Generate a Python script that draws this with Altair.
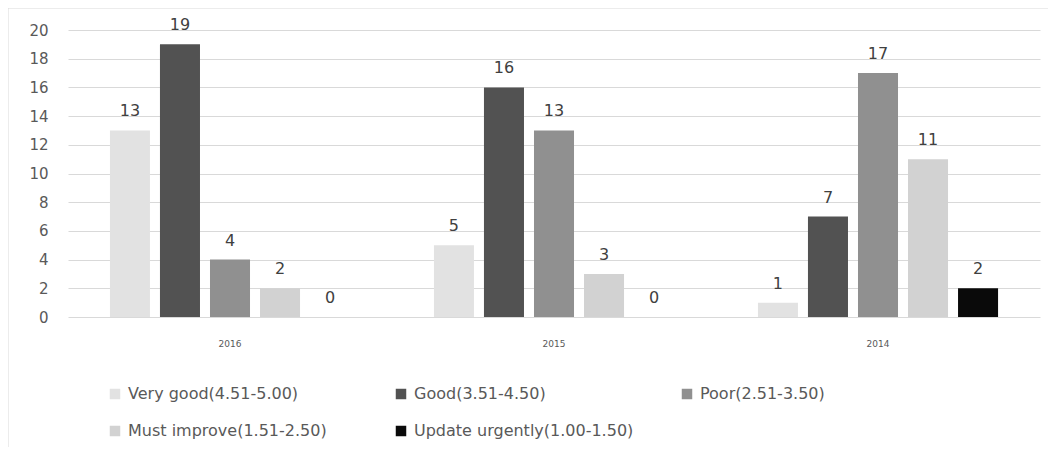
import altair as alt
import pandas as pd

years = ["2016", "2015", "2014"]
levels = [
    "Very good(4.51-5.00)",
    "Good(3.51-4.50)",
    "Poor(2.51-3.50)",
    "Must improve(1.51-2.50)",
    "Update urgently(1.00-1.50)",
]
colors = ["#e2e2e2", "#525252", "#909090", "#d2d2d2", "#0a0a0a"]
values_2016 = [13, 19, 4, 2, 0]
values_2015 = [5, 16, 13, 3, 0]
values_2014 = [1, 7, 17, 11, 2]

rows = []
for yr, vals in zip(years, [values_2016, values_2015, values_2014]):
    for lv, v in zip(levels, vals):
        rows.append({"year": yr, "level": lv, "value": v})
df = pd.DataFrame(rows)

FONT = "DejaVu Sans"

x_enc = alt.X(
    "year:N",
    sort=years,
    scale=alt.Scale(paddingInner=0.228, paddingOuter=0.114),
    axis=alt.Axis(
        title=None, labelAngle=0, domain=False, ticks=False,
        labelFontSize=9, labelColor="#595959", labelPadding=22, labelFont=FONT,
    ),
)
xoff = alt.XOffset("level:N", sort=levels,
                   scale=alt.Scale(paddingInner=0.2, paddingOuter=0.1))
y_enc = alt.Y(
    "value:Q",
    scale=alt.Scale(domain=[0, 20]),
    axis=alt.Axis(
        title=None, values=list(range(0, 21, 2)), tickCount=11, domain=False,
        ticks=False, labelOverlap=False,
        gridColor="#d9d9d9", gridWidth=1, labelFontSize=15,
        labelColor="#595959", labelPadding=20, labelFont=FONT,
    ),
)
color_enc = alt.Color(
    "level:N", sort=levels,
    scale=alt.Scale(domain=levels, range=colors),
    legend=alt.Legend(
        title=None, orient="none", legendX=39, legendY=356, direction="horizontal",
        columns=3, gridAlign="all", columnPadding=45, rowPadding=21,
        symbolType="square", symbolSize=110, symbolStrokeWidth=0,
        labelFontSize=16, labelColor="#595959", labelFont=FONT, labelOffset=5,
        labelLimit=400,
    ),
)

bars = alt.Chart(df).mark_bar().encode(
    x=x_enc, xOffset=xoff, y=y_enc, color=color_enc
)
labels = alt.Chart(df).mark_text(
    dy=-14, fontSize=16, color="#404040", font=FONT, baseline="alphabetic"
).encode(
    x=alt.X("year:N", sort=years), xOffset=alt.XOffset("level:N", sort=levels),
    y="value:Q", text="value:Q"
)
frame = alt.Chart(pd.DataFrame({"a": [0]})).mark_rect(
    fill=None, stroke="#d9d9d9", strokeWidth=1
).encode(
    x=alt.value(-60), x2=alt.value(1000), y=alt.value(-22), y2=alt.value(600)
)

chart = alt.layer(frame, bars, labels).properties(
    width=972, height=287,
    autosize=alt.AutoSizeParams(type="none"),
    padding={"left": 60, "top": 22, "right": 8, "bottom": 130},
).configure_view(stroke=None)

chart.save("out.html", embed_options={"renderer": "svg", "actions": False})
